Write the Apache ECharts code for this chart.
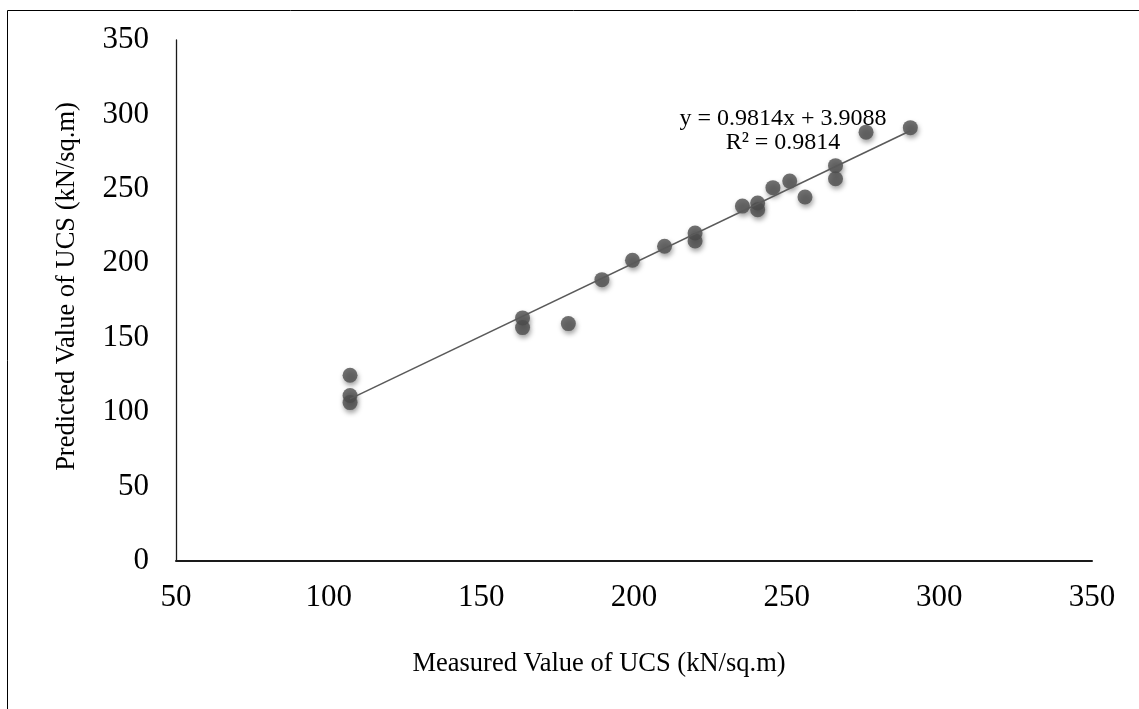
<!DOCTYPE html>
<html>
<head>
<meta charset="utf-8">
<script src="https://cdn.jsdelivr.net/npm/echarts@6/dist/echarts.min.js"></script>
<style>
html,body{margin:0;padding:0;background:#fff;}
#c{width:1139px;height:709px;}
</style>
</head>
<body>
<div id="c"></div>
<script>
var measured = [107, 107, 107, 163.5, 163.5, 178.5, 189.5, 199.5, 210, 220, 220, 235.5, 240.5, 240.5, 245.5, 251, 256, 266, 266, 276, 290.5];
var predicted = [124.8, 111.2, 106.4, 163.3, 156.8, 159.5, 189, 202, 211.4, 220.3, 215, 238.4, 240.5, 236, 250.8, 255.2, 244.5, 265.6, 256.8, 288.1, 291.1];
var slope = 0.9814;
var intercept = 3.9088;
var eqText = 'y = 0.9814x + 3.9088';
var r2Text = 'R² = 0.9814';
var xTitle = 'Measured Value of UCS (kN/sq.m)';
var yTitle = 'Predicted Value of UCS (kN/sq.m)';

var points = measured.map(function (m, i) { return [m, predicted[i]]; });
var xMin = Math.min.apply(null, measured), xMax = Math.max.apply(null, measured);
var trend = [[xMin, slope * xMin + intercept], [xMax, slope * xMax + intercept]];

var font = 'Liberation Serif, Times New Roman, serif';
var chart = echarts.init(document.getElementById('c'));
chart.setOption({
  animation: false,
  backgroundColor: '#fff',
  grid: {left: 176, top: 40, right: 47, bottom: 148},
  xAxis: {
    type: 'value', min: 50, max: 350, interval: 50,
    name: xTitle, nameLocation: 'middle', nameGap: 90,
    nameTextStyle: {fontFamily: font, fontSize: 26.5, color: '#000', padding: [0, 70, 0, 0]},
    axisLine: {show: true, lineStyle: {color: '#1a1a1a', width: 2}},
    axisTick: {show: false},
    splitLine: {show: false},
    axisLabel: {fontFamily: font, fontSize: 31, color: '#000', margin: 21}
  },
  yAxis: {
    type: 'value', min: 0, max: 350, interval: 50,
    name: yTitle, nameLocation: 'middle', nameGap: 95,
    nameTextStyle: {fontFamily: font, fontSize: 26.5, color: '#000', padding: [0, 0, 0, 28]},
    axisLine: {show: true, lineStyle: {color: '#1a1a1a', width: 1.3}},
    axisTick: {show: false},
    splitLine: {show: false},
    axisLabel: {fontFamily: font, fontSize: 31, color: '#000', margin: 27}
  },
  series: [
    {
      type: 'line', data: trend, symbol: 'none', silent: true,
      lineStyle: {color: '#5a5a5a', width: 1.6}, z: 3
    },
    {
      type: 'scatter', data: points, symbol: 'circle', symbolSize: 15,
      itemStyle: {color: '#4d4d4d', shadowBlur: 5, shadowColor: 'rgba(0,0,0,0.45)', shadowOffsetX: 1, shadowOffsetY: 3},
      z: 2
    }
  ],
  graphic: [
    {type: 'rect', shape: {x: 7.5, y: 10.5, width: 1300, height: 900}, style: {fill: 'none', stroke: '#000', lineWidth: 1}, silent: true, z: -1},
    {type: 'text', x: 783, y: 119, style: {text: eqText, textAlign: 'center', textVerticalAlign: 'middle', font: '24px ' + font, fill: '#000'}, z: 10},
    {type: 'text', x: 783, y: 143, style: {text: r2Text, textAlign: 'center', textVerticalAlign: 'middle', font: '24px ' + font, fill: '#000'}, z: 10}
  ]
});
</script>
</body>
</html>
